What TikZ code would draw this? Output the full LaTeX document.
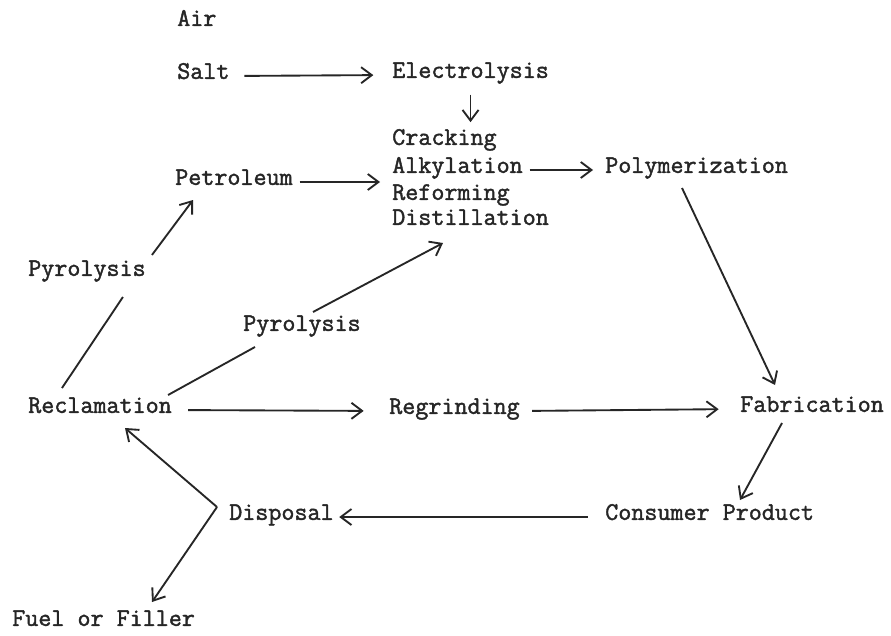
\documentclass[tikz,border=0pt]{standalone}
\usepackage{fontspec}
\usetikzlibrary{arrows.meta}
\newfontfamily\typewriter{Latin Modern Mono}[FakeBold=1.6]
\definecolor{ink}{HTML}{262626}
\tikzset{
  stage/.style={
    font=\typewriter\fontsize{19}{22}\selectfont, text=ink,
    inner sep=0pt, anchor=mid west
  },
  flow/.style={-{Straight Barb[length=8pt,width=12pt]}, line width=1.4pt, draw=ink},
  link/.style={line width=1.4pt, draw=ink},
}

\begin{document}
\begin{tikzpicture}[x=0.75pt, y=-0.75pt]
  \path[fill=white] (0,0) rectangle (891,635);

  \node[stage] (air) at (177,23) {Air};
  \node[stage] (salt) at (177,76) {Salt};
  \node[stage] (elec) at (392,75) {Electrolysis};
  \node[stage] (crack) at (392,142) {Cracking};
  \node[stage] (alky) at (392,170) {Alkylation};
  \node[stage] (reform) at (392,197) {Reforming};
  \node[stage] (distil) at (392,222) {Distillation};
  \node[stage] (petro) at (175,182) {Petroleum};
  \node[stage] (poly) at (605,170) {Polymerization};
  \node[stage] (pyroL) at (28,273) {Pyrolysis};
  \node[stage] (pyroM) at (243,328) {Pyrolysis};
  \node[stage] (recl) at (28,410) {Reclamation};
  \node[stage] (regr) at (389,411) {Regrinding};
  \node[stage] (fab) at (740,409) {Fabrication};
  \node[stage] (cons) at (605,517) {Consumer Product};
  \node[stage] (disp) at (229,517) {Disposal};
  \node[stage] (fuel) at (12,623) {Fuel or Filler};

  \foreach \from/\to/\gapa/\gapb in {salt/elec/11pt/14pt, alky/poly/5pt/9pt, recl/regr/12pt/19pt, regr/fab/9pt/16pt}
    \draw[flow, shorten <=\gapa, shorten >=\gapb] (\from.mid east) -- (\to.mid west);
  \draw[flow, shorten <=5pt, shorten >=9pt] (petro.mid east) -- (petro.mid east -| alky.west);
  \draw[flow, shorten <=13pt, shorten >=4pt] (cons.mid west) -- (disp.mid east);
  \draw[flow, shorten <=8pt, shorten >=5pt] (elec.south) -- (elec.south |- crack.north);

  \draw[link] ([shift={(34,-22)}]recl.mid west) -- ([shift={(-23,24)}]pyroL.mid east);
  \draw[flow] ([shift={(6,-18)}]pyroL.mid east) -- ([shift={(18,18)}]petro.mid west);
  \draw[link] ([shift={(-4,-15)}]recl.mid east) -- ([shift={(12,19)}]pyroM.mid west);
  \draw[flow] ([shift={(70,-16)}]pyroM.mid west) -- ([shift={(51,21)}]distil.mid west);
  \draw[flow] ([shift={(77,18)}]poly.mid west) -- ([shift={(35,-24)}]fab.mid west);
  \draw[flow] ([shift={(42,14)}]fab.mid west) -- ([shift={(135,-17)}]cons.mid west);

  \coordinate (split) at ([shift={(-12,-10)}]disp.mid west);
  \draw[flow] (split) -- ([shift={(97,18)}]recl.mid west);
  \draw[flow] (split) -- ([shift={(140,-21)}]fuel.mid west);
\end{tikzpicture}
\end{document}
